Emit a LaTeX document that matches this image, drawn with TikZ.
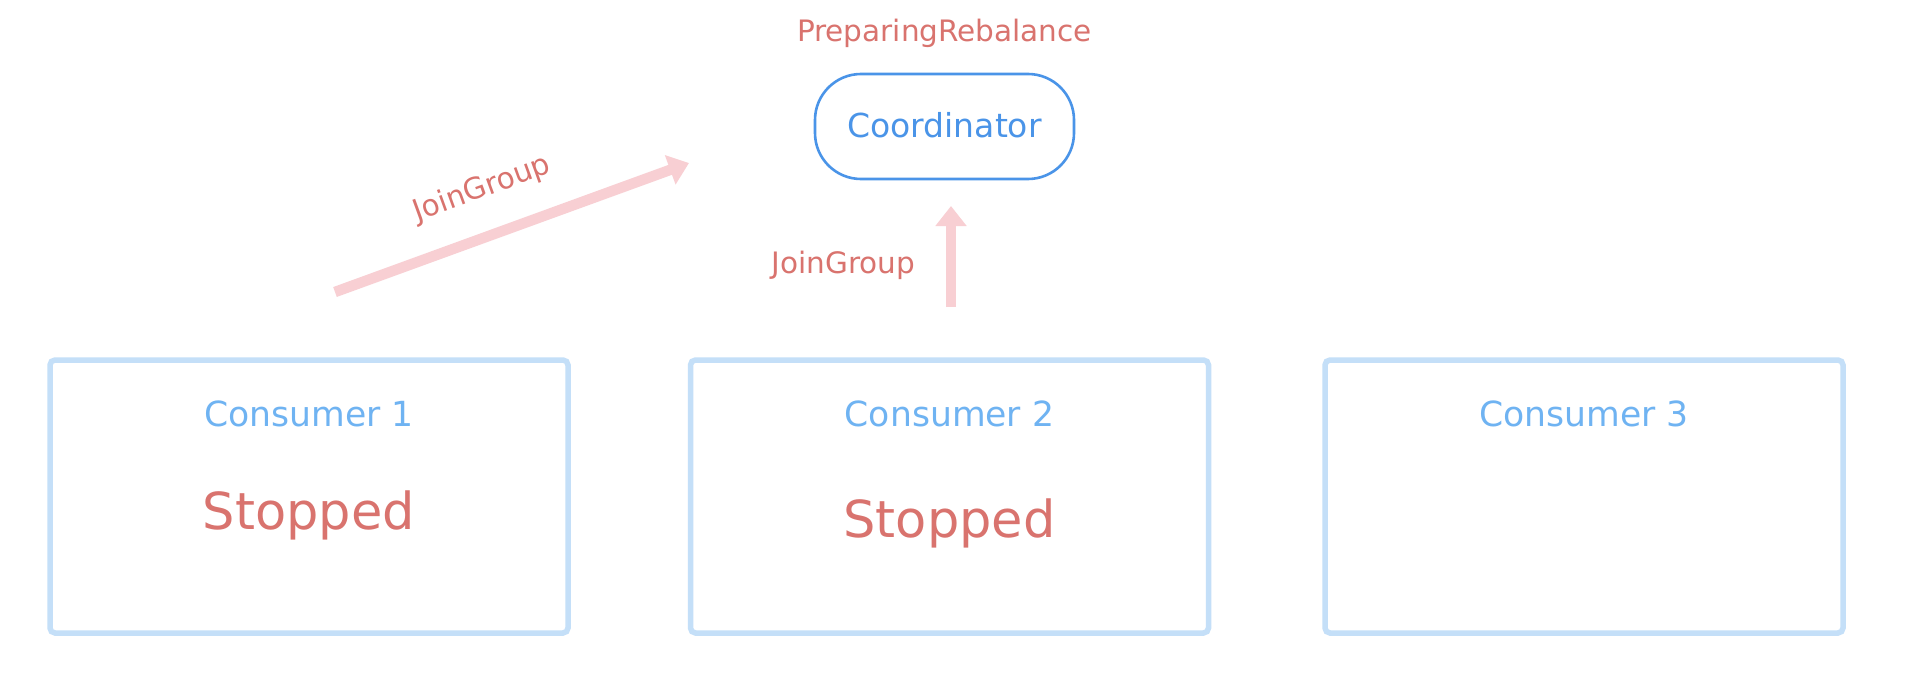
\documentclass[tikz,border=0pt]{standalone}
\usepackage{fontspec}
\setmainfont{DejaVu Sans}
\usetikzlibrary{arrows.meta}
\definecolor{boxblue}{HTML}{C4DFF8}
\definecolor{txtblue}{HTML}{6FB3F2}
\definecolor{coordblue}{HTML}{4A94E8}
\definecolor{txtred}{HTML}{D9736E}
\definecolor{arrowpink}{HTML}{F8CFD3}
\tikzset{
  consumerbox/.style={draw=boxblue, line width=5.5pt, rounded corners=5pt, minimum width=518pt, minimum height=273pt, inner sep=0pt},
  coordbox/.style={draw=coordblue, line width=2.6pt, rounded corners=46pt, minimum width=259pt, minimum height=105pt, inner sep=0pt},
  bluelabel/.style={text=txtblue, font=\fontsize{34.6}{40}\selectfont, inner sep=0pt, anchor=base},
  stoplabel/.style={text=txtred, font=\fontsize{51}{60}\selectfont, inner sep=0pt, anchor=base},
  redlabel/.style={text=txtred, font=\fontsize{29.5}{35}\selectfont, inner sep=0pt},
  coordlabel/.style={text=coordblue, font=\fontsize{33}{38}\selectfont, inner sep=0pt, anchor=base},
  msgarrow/.style={draw=arrowpink, line width=10.5pt, -{Triangle[width=30pt,length=20pt]}}
}
\begin{document}
\begin{tikzpicture}[x=1pt,y=-1pt]
\useasboundingbox[fill=white] (0,0) rectangle (1920,682);
% consumer boxes
\node[consumerbox] (c1) at (309,496.5) {};
\node[consumerbox] (c2) at (949.5,496.5) {};
\node[consumerbox] (c3) at (1584,496.5) {};
\node[bluelabel] (c1t) at (309,426) {Consumer 1};
\node[bluelabel] (c2t) at (949.5,426) {Consumer 2};
\node[bluelabel] (c3t) at (1584,426) {Consumer 3};
\node[stoplabel] (c1s) at (309,529) {Stopped};
\node[stoplabel] (c2s) at (949.5,537) {Stopped};
% coordinator
\node[coordbox] (coord) at (944.5,126.5) {};
\node[coordlabel] (coordt) at (944.5,138) {Coordinator};
\node[redlabel, anchor=base] (state) at (944.5,42) {PreparingRebalance};
% arrows
\coordinate (a1s) at (335,292);
\coordinate (a1e) at (689,163);
\coordinate (a2s) at (951,307);
\coordinate (a2e) at (951,206);
\draw[msgarrow] (a1s) -- (a1e);
\draw[msgarrow] (a2s) -- (a2e);
\node[redlabel, rotate=20] (j1) at (482,189) {JoinGroup};
\node[redlabel, anchor=base] (j2) at (843.5,273) {JoinGroup};
\end{tikzpicture}
\end{document}
